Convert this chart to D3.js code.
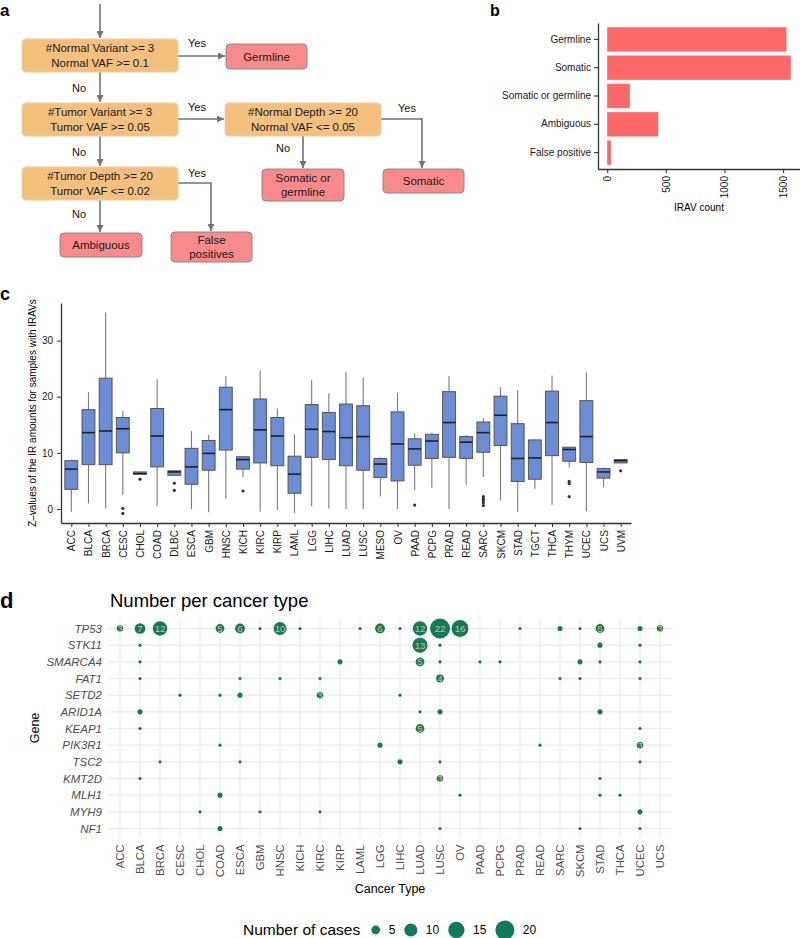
<!DOCTYPE html>
<html>
<head>
<meta charset="utf-8">
<script src="https://cdn.jsdelivr.net/npm/d3@7"></script>
<style>
body { margin: 0; background: #fff; }
svg { font-family: "Liberation Sans", Arial, Helvetica, sans-serif; }
</style>
</head>
<body>
<script>
// ---- panel a: flowchart text
var questionText = [
  ["#Normal Variant >= 3", "Normal VAF >= 0.1"],
  ["#Tumor Variant >= 3", "Tumor VAF >= 0.05"],
  ["#Normal Depth >= 20", "Normal VAF <= 0.05"],
  ["#Tumor Depth >= 20", "Tumor VAF <= 0.02"]
];
var outcomeText = [["Germline"], ["Somatic"], ["Somatic or", "germline"], ["Ambiguous"], ["False", "positives"]];

// ---- panel b: IRAV counts
var bCategories = ["Germline", "Somatic", "Somatic or germline", "Ambiguous", "False positive"];
var bCounts = [1529, 1566, 194, 435, 32];
var bTicks = [0, 500, 1000, 1500];

// ---- panel c: boxplot stats
var cCancers = ["ACC","BLCA","BRCA","CESC","CHOL","COAD","DLBC","ESCA","GBM","HNSC","KICH","KIRC","KIRP","LAML","LGG","LIHC","LUAD","LUSC","MESO","OV","PAAD","PCPG","PRAD","READ","SARC","SKCM","STAD","TGCT","THCA","THYM","UCEC","UCS","UVM"];
var cLow    = [-0.5, 1.0, 0.1, 2.5, 6.2, 0.5, 6.0, 0.0, -0.6, 1.8, 5.7, -0.5, -0.2, -0.7, 0.5, 0.1, 0.0, 0.0, 2.2, 0.0, 3.4, 3.8, 0.0, 4.3, 5.7, 1.5, -0.5, 3.6, 0.7, 7.4, -0.4, 3.9, 8.2];
var cQ1     = [3.5, 7.9, 7.9, 10.0, 6.2, 7.5, 6.0, 4.4, 6.9, 10.5, 7.1, 8.2, 7.7, 2.8, 9.2, 8.8, 7.7, 6.9, 5.6, 5.0, 7.8, 9.0, 9.2, 9.0, 10.1, 11.3, 4.9, 5.3, 9.5, 8.5, 8.3, 5.5, 8.2];
var cMedian = [7.1, 13.6, 13.9, 14.3, 6.3, 13.0, 6.6, 7.5, 9.9, 17.7, 8.8, 14.1, 13.0, 6.2, 14.2, 13.8, 12.7, 12.9, 8.0, 11.6, 10.7, 12.1, 15.4, 11.9, 13.6, 16.7, 9.0, 9.1, 15.4, 10.6, 12.9, 6.6, 8.6];
var cQ3     = [8.6, 17.7, 23.3, 16.3, 6.6, 17.9, 6.8, 10.8, 12.2, 21.7, 9.3, 19.6, 16.3, 9.4, 18.6, 17.2, 18.7, 18.4, 9.0, 17.3, 12.5, 13.3, 20.9, 12.9, 15.5, 20.1, 15.2, 12.3, 21.0, 11.0, 19.3, 7.2, 8.8];
var cHigh   = [8.8, 20.8, 35.0, 17.5, 6.6, 23.1, 6.8, 13.9, 13.2, 23.7, 9.4, 24.7, 17.9, 13.3, 23.0, 20.6, 24.4, 23.4, 9.2, 20.7, 13.5, 13.6, 23.7, 13.2, 16.2, 21.7, 21.2, 12.4, 23.8, 11.0, 24.3, 7.4, 8.8];
var cOutliers = [[], [], [], [0.1, -0.8], [5.3], [], [4.6, 3.3], [], [], [], [3.2], [], [], [], [], [], [], [], [], [], [0.7], [], [], [], [2.2, 1.8, 1.5, 1.1, 0.6], [], [], [], [], [4.9, 4.5, 2.2], [], [], [6.8]];
var cTicks = [0, 10, 20, 30];

// ---- panel d: cases per gene and cancer type
var dGenes = ["TP53","STK11","SMARCA4","FAT1","SETD2","ARID1A","KEAP1","PIK3R1","TSC2","KMT2D","MLH1","MYH9","NF1"];
var dCancers = ["ACC","BLCA","BRCA","CESC","CHOL","COAD","ESCA","GBM","HNSC","KICH","KIRC","KIRP","LAML","LGG","LIHC","LUAD","LUSC","OV","PAAD","PCPG","PRAD","READ","SARC","SKCM","STAD","THCA","UCEC","UCS"];
var tp53    = [["ACC",3],["BLCA",7],["BRCA",12],["COAD",5],["ESCA",6],["GBM",1],["HNSC",10],["KICH",1],["LAML",1],["LGG",6],["LIHC",1],["LUAD",12],["LUSC",22],["OV",16],["PRAD",1],["SARC",2],["SKCM",1],["STAD",5],["UCEC",2],["UCS",3]];
var stk11   = [["BLCA",1],["LUAD",13],["LUSC",1],["STAD",2],["UCEC",1]];
var smarca4 = [["BLCA",1],["KIRP",2],["LUAD",5],["LUSC",1],["PAAD",1],["PCPG",1],["SKCM",2],["STAD",1],["UCEC",1]];
var fat1    = [["BLCA",1],["ESCA",1],["HNSC",1],["KIRC",1],["LUSC",4],["SARC",1],["SKCM",1],["UCEC",1]];
var setd2   = [["CESC",1],["COAD",1],["ESCA",2],["KIRC",3],["LIHC",1]];
var arid1a  = [["BLCA",2],["LUAD",1],["LUSC",2],["STAD",2]];
var keap1   = [["BLCA",1],["LUAD",5],["UCEC",1]];
var pik3r1  = [["COAD",1],["LGG",2],["READ",1],["UCEC",3]];
var tsc2    = [["BRCA",1],["ESCA",1],["LIHC",2],["LUSC",1],["UCEC",1]];
var kmt2d   = [["BLCA",1],["LUSC",3],["STAD",1]];
var mlh1    = [["COAD",2],["OV",1],["STAD",1],["THCA",1]];
var myh9    = [["CHOL",1],["GBM",1],["KIRC",1],["UCEC",2]];
var nf1     = [["COAD",2],["LUSC",1],["SKCM",1],["UCEC",1]];
var dByGene = [tp53, stk11, smarca4, fat1, setd2, arid1a, keap1, pik3r1, tsc2, kmt2d, mlh1, myh9, nf1];
var legendCounts = [5, 10, 15, 20];

var svg = d3.select("body").append("svg")
    .attr("width", 800)
    .attr("height", 938);

function panelLetter(t, x, y, size) {
  svg.append("text").attr("x", x).attr("y", y)
    .attr("font-size", size).attr("font-weight", "bold").text(t);
}

// ================= panel a =================
panelLetter("a", 0, 16, 17);

var grey = "#737373";
svg.append("defs").append("marker")
    .attr("id", "arr")
    .attr("viewBox", "0 0 10 10")
    .attr("refX", 10).attr("refY", 5)
    .attr("markerWidth", 7).attr("markerHeight", 7)
    .attr("markerUnits", "userSpaceOnUse")
    .attr("orient", "auto")
  .append("path").attr("d", "M0,0L10,5L0,10z").attr("fill", grey);

var flowBoxes = [
  {lines: questionText[0], x: 22, y: 39, w: 156, h: 33, q: true},
  {lines: questionText[1], x: 22, y: 103, w: 156, h: 33, q: true},
  {lines: questionText[2], x: 225, y: 103, w: 156, h: 33, q: true},
  {lines: questionText[3], x: 22, y: 167, w: 156, h: 33, q: true},
  {lines: outcomeText[0], x: 226, y: 44, w: 81, h: 25},
  {lines: outcomeText[1], x: 383, y: 169, w: 81, h: 24},
  {lines: outcomeText[2], x: 262, y: 169, w: 82, h: 32},
  {lines: outcomeText[3], x: 60, y: 233, w: 82, h: 24},
  {lines: outcomeText[4], x: 171, y: 232, w: 81, h: 30}
];

// arrows: polyline points and a label
var flowEdges = [
  {pts: [[100, 4], [100, 38]]},
  {pts: [[178, 56], [225, 56]], label: "Yes", lx: 197, ly: 47},
  {pts: [[100, 72], [100, 102]], label: "No", lx: 79, ly: 92},
  {pts: [[178, 119], [224, 119]], label: "Yes", lx: 197, ly: 111},
  {pts: [[100, 136], [100, 166]], label: "No", lx: 79, ly: 156},
  {pts: [[381, 119], [422, 119], [422, 168]], label: "Yes", lx: 407, ly: 112},
  {pts: [[303, 136], [303, 168]], label: "No", lx: 283, ly: 152},
  {pts: [[178, 183], [211, 183], [211, 231]], label: "Yes", lx: 197, ly: 177},
  {pts: [[100, 200], [100, 232]], label: "No", lx: 79, ly: 218}
];

flowEdges.forEach(function(e) {
  svg.append("path")
    .attr("d", d3.line()(e.pts))
    .attr("fill", "none")
    .attr("stroke", grey)
    .attr("stroke-width", 1.6)
    .attr("marker-end", "url(#arr)");
  if (e.label) {
    svg.append("text").attr("x", e.lx).attr("y", e.ly)
      .attr("text-anchor", "middle").attr("font-size", 11).attr("fill", "#111")
      .text(e.label);
  }
});

flowBoxes.forEach(function(b) {
  svg.append("rect")
    .attr("x", b.x).attr("y", b.y).attr("width", b.w).attr("height", b.h)
    .attr("rx", 4)
    .attr("fill", b.q ? "#F3C07F" : "#F98A8B")
    .attr("stroke", b.q ? "#F6CB93" : "#8A8A8A")
    .attr("stroke-width", 1);
  var n = b.lines.length;
  b.lines.forEach(function(t, i) {
    svg.append("text")
      .attr("x", b.x + b.w / 2)
      .attr("y", b.y + b.h / 2 + (i - (n - 1) / 2) * 14.3)
      .attr("dy", "0.35em")
      .attr("text-anchor", "middle")
      .attr("font-size", 11.5)
      .attr("fill", "#1a1a1a")
      .text(t);
  });
});

// ================= panel b =================
panelLetter("b", 490, 16, 16);

var xB = d3.scaleLinear()
    .domain([-d3.max(bCounts) * 0.05, d3.max(bCounts) * 1.05])
    .range([598, 800]);
var yB = d3.scaleBand()
    .domain(bCategories)
    .range([23, 169])
    .paddingInner(0.14)
    .paddingOuter(0.15);

svg.append("g").selectAll("rect")
    .data(bCounts)
    .join("rect")
    .attr("x", xB(0))
    .attr("y", function(d, i) { return yB(bCategories[i]); })
    .attr("width", function(d) { return xB(d) - xB(0); })
    .attr("height", yB.bandwidth())
    .attr("fill", "#FF6868");

var bAxisY = svg.append("g")
    .attr("transform", "translate(598,0)")
    .call(d3.axisLeft(yB).tickSize(4).tickSizeOuter(0).tickPadding(3));
var bAxisX = svg.append("g")
    .attr("transform", "translate(0,169)")
    .call(d3.axisBottom(xB).tickValues(bTicks).tickFormat(d3.format("d")).tickSize(4).tickSizeOuter(0));
bAxisX.selectAll("text")
    .attr("transform", "rotate(-90)")
    .attr("x", -7).attr("y", 0).attr("dy", "0.35em")
    .attr("text-anchor", "end");
[bAxisX, bAxisY].forEach(function(a) {
  a.select(".domain").attr("stroke", "#333").attr("stroke-width", 1.3);
  a.selectAll(".tick line").attr("stroke", "#333").attr("stroke-width", 1.1);
  a.selectAll("text").attr("font-size", 10).attr("fill", "#1a1a1a")
    .attr("font-family", "Liberation Sans, Arial, sans-serif");
});
svg.append("text").attr("x", 699).attr("y", 211)
    .attr("text-anchor", "middle").attr("font-size", 10).text("IRAV count");

// ================= panel c =================
panelLetter("c", 0, 300, 18);

var xC = d3.scalePoint().domain(cCancers).range([61, 631]).padding(0.6);
var yC = d3.scaleLinear().domain([-2.5, 36.7]).range([523, 303]);
var boxW = xC.step() * 0.75;

var boxes = svg.append("g").selectAll("g")
    .data(cCancers)
    .join("g")
    .attr("transform", function(d) { return "translate(" + xC(d) + ",0)"; });

boxes.append("line")
    .attr("x1", 0).attr("x2", 0)
    .attr("y1", function(d, i) { return yC(cHigh[i]); })
    .attr("y2", function(d, i) { return yC(cQ3[i]); })
    .attr("stroke", "#7a7a7a").attr("stroke-width", 1.1);
boxes.append("line")
    .attr("x1", 0).attr("x2", 0)
    .attr("y1", function(d, i) { return yC(cQ1[i]); })
    .attr("y2", function(d, i) { return yC(cLow[i]); })
    .attr("stroke", "#7a7a7a").attr("stroke-width", 1.1);
boxes.append("rect")
    .attr("x", -boxW / 2)
    .attr("y", function(d, i) { return yC(cQ3[i]); })
    .attr("width", boxW)
    .attr("height", function(d, i) { return Math.max(1, yC(cQ1[i]) - yC(cQ3[i])); })
    .attr("fill", "#6A8DD6")
    .attr("stroke", "#555")
    .attr("stroke-width", 1);
boxes.append("line")
    .attr("x1", -boxW / 2).attr("x2", boxW / 2)
    .attr("y1", function(d, i) { return yC(cMedian[i]); })
    .attr("y2", function(d, i) { return yC(cMedian[i]); })
    .attr("stroke", "#222").attr("stroke-width", 1.6);
boxes.selectAll("circle")
    .data(function(d, i) { return cOutliers[i]; })
    .join("circle")
    .attr("cx", 0)
    .attr("cy", function(v) { return yC(v); })
    .attr("r", 1.6)
    .attr("fill", "#333");

var cAxisY = svg.append("g")
    .attr("transform", "translate(61,0)")
    .call(d3.axisLeft(yC).tickValues(cTicks).tickSize(4).tickSizeOuter(0).tickPadding(4));
var cAxisX = svg.append("g")
    .attr("transform", "translate(0,523)")
    .call(d3.axisBottom(xC).tickSize(4).tickSizeOuter(0));
cAxisX.selectAll("text")
    .attr("transform", "rotate(-90)")
    .attr("x", -7).attr("y", 0).attr("dy", "0.35em")
    .attr("text-anchor", "end");
[cAxisX, cAxisY].forEach(function(a) {
  a.select(".domain").attr("stroke", "#333").attr("stroke-width", 1.3);
  a.selectAll(".tick line").attr("stroke", "#333");
  a.selectAll("text").attr("font-size", 10).attr("fill", "#1a1a1a")
    .attr("font-family", "Liberation Sans, Arial, sans-serif");
});
svg.append("text")
    .attr("transform", "translate(36,413) rotate(-90)")
    .attr("text-anchor", "middle")
    .attr("font-size", 10)
    .text("Z\u2013values of the IR amounts for samples with IRAVs");

// ================= panel d =================
panelLetter("d", 0, 608, 22);
svg.append("text").attr("x", 110).attr("y", 607)
    .attr("font-size", 18.5).text("Number per cancer type");

var xD = d3.scalePoint().domain(dCancers).range([108, 672]).padding(0.6);
var yD = d3.scalePoint().domain(dGenes).range([618.5, 838.5]).padding(0.6);
var rD = d3.scaleSqrt().domain([1, 22]).range([1.6, 10]);

var grid = svg.append("g").attr("stroke", "#EBEBEB").attr("stroke-width", 1.2);
grid.selectAll("line.v")
    .data(dCancers).join("line").attr("class", "v")
    .attr("x1", function(d) { return xD(d); }).attr("x2", function(d) { return xD(d); })
    .attr("y1", 618.5).attr("y2", 838.5);
grid.selectAll("line.h")
    .data(dGenes).join("line").attr("class", "h")
    .attr("x1", 108).attr("x2", 672)
    .attr("y1", function(d) { return yD(d); }).attr("y2", function(d) { return yD(d); });

var dots = [];
dByGene.forEach(function(rows, gi) {
  rows.forEach(function(r) { dots.push({gene: dGenes[gi], cancer: r[0], n: r[1]}); });
});

var dotG = svg.append("g").selectAll("g")
    .data(dots)
    .join("g")
    .attr("transform", function(d) { return "translate(" + xD(d.cancer) + "," + yD(d.gene) + ")"; });
dotG.append("circle")
    .attr("r", function(d) { return rD(d.n); })
    .attr("fill", "#107A5C");
dotG.filter(function(d) { return d.n >= 3; })
    .append("text")
    .attr("text-anchor", "middle")
    .attr("dy", "0.36em")
    .attr("font-size", 9.5)
    .attr("fill", "#DCC27A")
    .text(function(d) { return d.n; });

var dAxisY = svg.append("g")
    .attr("transform", "translate(108,0)")
    .call(d3.axisLeft(yD).tickSize(0).tickPadding(6));
var dAxisX = svg.append("g")
    .attr("transform", "translate(0,838.5)")
    .call(d3.axisBottom(xD).tickSize(0));
dAxisX.selectAll("text")
    .attr("transform", "rotate(-90)")
    .attr("x", -6).attr("y", 0).attr("dy", "0.35em")
    .attr("text-anchor", "end");
[dAxisX, dAxisY].forEach(function(a) {
  a.select(".domain").remove();
  a.selectAll("text").attr("font-size", 11.3).attr("fill", "#4D4D4D")
    .attr("font-family", "Liberation Sans, Arial, sans-serif");
});
dAxisY.selectAll("text").attr("font-style", "italic").attr("font-size", 11.5);

svg.append("text").attr("x", 390).attr("y", 893)
    .attr("text-anchor", "middle").attr("font-size", 12.5).text("Cancer Type");
svg.append("text")
    .attr("transform", "translate(39,728) rotate(-90)")
    .attr("text-anchor", "middle").attr("font-size", 12.5).text("Gene");

// size legend: keys laid out one after the other
var legend = svg.append("g").attr("transform", "translate(0,930)");
legend.append("text").attr("x", 243).attr("y", 0).attr("dy", "0.35em")
    .attr("font-size", 15.5).text("Number of cases");
var cursor = 371.3;
legendCounts.forEach(function(d) {
  var r = rD(d);
  var cx = cursor + r;
  legend.append("circle").attr("cx", cx).attr("cy", 0).attr("r", r).attr("fill", "#107A5C");
  var lab = legend.append("text")
      .attr("x", cx + r + 8.5).attr("y", 0).attr("dy", "0.35em")
      .attr("font-size", 12)
      .text(d);
  cursor = cx + r + 8.5 + lab.node().getComputedTextLength() + 9;
});
</script>
</body>
</html>
